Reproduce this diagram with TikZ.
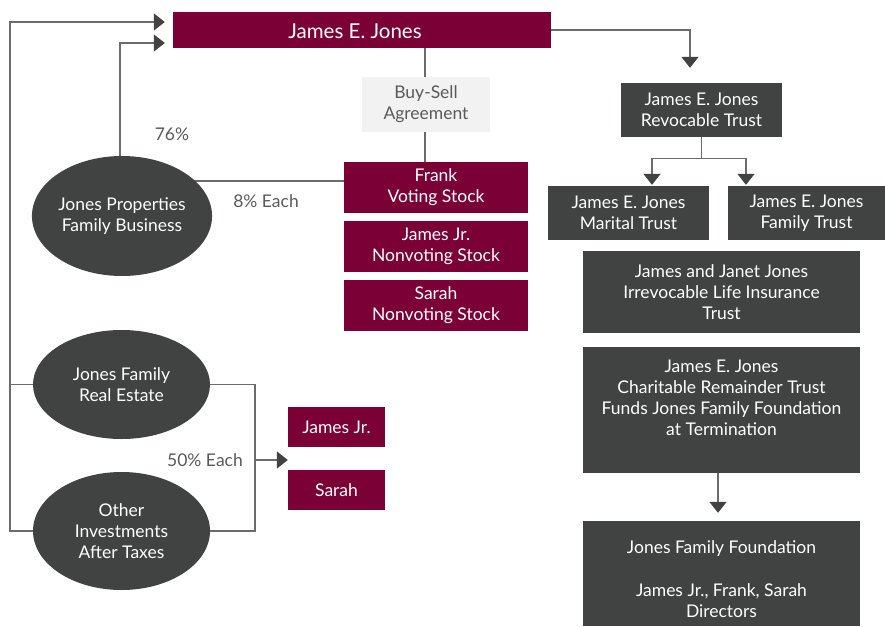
\documentclass[tikz,border=0pt]{standalone}
\usepackage{fontspec}
\setmainfont{Lato}
\usetikzlibrary{arrows.meta,shapes.geometric,backgrounds}
\definecolor{maroon}{HTML}{7A0036}
\definecolor{dgray}{HTML}{414242}
\definecolor{lgray}{HTML}{F2F2F2}
\definecolor{lncol}{HTML}{6B6B6B}
\definecolor{txtgray}{HTML}{5A5A5A}
\tikzset{
  base/.style={inner sep=0pt, align=center, font=\fontsize{17.5}{21}\selectfont},
  mbox/.style={base, rectangle, fill=maroon, text=white},
  gbox/.style={base, rectangle, fill=dgray, text=white},
  agree/.style={base, rectangle, fill=lgray, text=txtgray},
  oval/.style={base, ellipse, fill=dgray, text=white},
  lbl/.style={base, text=txtgray},
  conn/.style={draw=lncol, line width=1.4pt},
  arr/.style={conn, -{Triangle[width=17pt,length=11pt,color=dgray]}},
}
\begin{document}
\begin{tikzpicture}[x=1pt,y=-1pt]
\useasboundingbox (0,0) rectangle (885,626);
% maroon boxes
\node[mbox, minimum width=378pt, minimum height=36pt] (top) at (362,30) {};
\node[base, text=white, font=\fontsize{20.5}{24}\selectfont] (toptxt) at (355,31) {James E. Jones};
\node[agree, minimum width=128pt, minimum height=55pt] (bs) at (426,104.5) {Buy-Sell\\Agreement};
\node[mbox, minimum width=184pt, minimum height=51pt] (frank) at (436,187.5) {Frank\\Voting Stock};
\node[mbox, minimum width=184pt, minimum height=51pt] (jjnv) at (436,246.5) {James Jr.\\Nonvoting Stock};
\node[mbox, minimum width=184pt, minimum height=51pt] (snv) at (436,305.5) {Sarah\\Nonvoting Stock};
\node[mbox, minimum width=97pt, minimum height=40pt] (jj) at (336.5,427) {James Jr.};
\node[mbox, minimum width=97pt, minimum height=40pt] (sa) at (336.5,490) {Sarah};
% ellipses
\node[oval, minimum width=178pt, minimum height=120pt] (jp) at (122,216) {Jones Properties\\Family Business};
\node[oval, minimum width=177pt, minimum height=109pt] (re) at (121.5,384.5) {Jones Family\\Real Estate};
\node[oval, minimum width=177pt, minimum height=118pt] (oth) at (121.5,531) {Other\\Investments\\After Taxes};
% gray boxes
\node[gbox, minimum width=161pt, minimum height=54pt] (rev) at (701.5,110) {James E. Jones\\Revocable Trust};
\node[gbox, minimum width=161pt, minimum height=54pt] (mar) at (628.5,213) {James E. Jones\\Marital Trust};
\node[gbox, minimum width=157pt, minimum height=54pt] (fam) at (806.5,213) {James E. Jones\\Family Trust};
\node[gbox, minimum width=277pt, minimum height=82pt] (irr) at (721.5,292) {James and Janet Jones\\Irrevocable Life Insurance\\Trust};
\node[gbox, minimum width=277pt, minimum height=126pt] (cha) at (721.5,410) {};
\node[base, text=white] (chatxt) at (721.5,397.5) {James E. Jones\\Charitable Remainder Trust\\Funds Jones Family Foundation\\at Termination};
\node[gbox, minimum width=277pt, minimum height=105pt] (fnd) at (721.5,573.5) {};
\node[base, text=white] (fndtxt) at (721.5,579.5) {Jones Family Foundation\\[22pt]James Jr., Frank, Sarah\\Directors};
% labels
\node[lbl] (l76) at (172,134) {76\%};
\node[lbl] (l8) at (266,201) {8\% Each};
\node[lbl, anchor=east] (l50) at (243,460) {50\% Each};
\coordinate (c50) at (255,460);
% connectors
\begin{scope}[on background layer]
\draw[arr, shorten >=8pt] (oth.west) -| (10,22) -- ([yshift=8pt]top.west);
\draw[conn] (re.west) -- ++(-23,0);
\draw[arr, shorten >=8pt] ([xshift=-2pt]jp.north) |- ([yshift=-13pt]top.west);
\draw[conn] ([yshift=6.5pt]frank.west) -- ([yshift=6.5pt]frank.west -| jp.center);
\draw[conn] (bs.north -| 425,0) -- (top.south -| 425,0);
\draw[conn] (bs.south -| 425,0) -- (frank.north -| 425,0);
\draw[conn] (re.east) -| (c50) |- (oth.east);
\draw[arr] (c50) -- (jj.west |- c50);
\draw[arr, shorten >=15pt] (top.east) -| ([xshift=-11.5pt]rev.north);
\draw[conn] (rev.south) -- ++(0,21) coordinate (rj);
\draw[arr, shorten >=1pt] (rj) -| ([xshift=23.5pt]mar.north);
\draw[arr, shorten >=1pt] (rj) -| ([xshift=-60.5pt]fam.north);
\draw[arr, shorten >=8pt] ([xshift=-3.5pt]cha.south) -- ([xshift=-3.5pt]fnd.north);
\end{scope}
\end{tikzpicture}
\end{document}
